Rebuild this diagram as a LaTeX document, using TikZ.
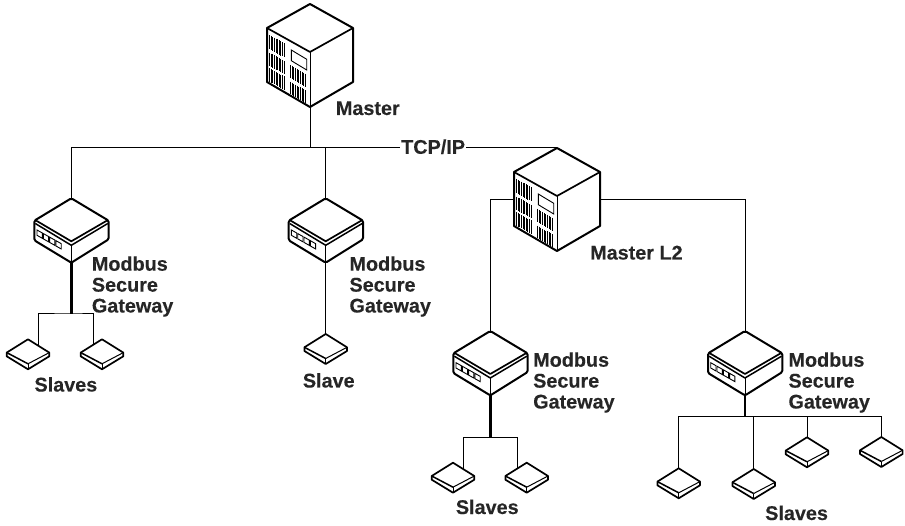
\documentclass[tikz,border=0pt]{standalone}
\usepackage{fontspec}
\setmainfont[BoldFeatures={FakeBold=0.2}]{Liberation Sans}
\newcommand{\grillbars}[4]{%
  \foreach \k in {0,...,9}{%
    \pgfmathsetmacro{\bx}{#1+\k*(#2-(#1))/9}%
    \pgfmathsetmacro{\bt}{#3+(\bx-(#1))*0.565}%
    \pgfmathsetmacro{\bb}{#4+(\bx-(#1))*0.565}%
    \draw[line width=1pt] (\bx,\bt) -- (\bx,\bb);
  }%
}
\tikzset{
  x=1pt,y=-1pt,
  outline/.style={line width=2pt,line join=round,fill=white},
  inner line/.style={line width=1pt},
  link/.style={line width=1pt,draw=black},
  heavy link/.style={line width=2.4pt,draw=black},
  caption/.style={font=\bfseries\fontsize{19.8}{20.9}\selectfont,inner sep=0pt,anchor=base west,align=left,text=black!85},
  cube/.pic={
    \draw[outline] (0,0) -- (43,24) -- (43,78) -- (0,103) -- (-43,78) -- (-43,24) -- cycle;
    \draw[line width=1.7pt,line join=round] (-43,24) -- (0,48) -- (43,24);
    \draw[inner line] (0,48) -- (0,103);
    \grillbars{-40.3}{-26}{31}{45.3}
    \grillbars{-40.3}{-26}{48.7}{62}
    \grillbars{-40.3}{-26}{64.3}{77.7}
    \grillbars{-19.7}{-4.3}{61}{74.3}
    \grillbars{-19.7}{-4.3}{77.7}{90.3}
    \draw[line width=0.9pt] (-18.7,46) -- (-3.3,55.3) -- (-3.3,66) -- (-18.7,56.7) -- cycle;
    \coordinate (-top) at (0,0);
    \coordinate (-bot) at (0,103);
    \coordinate (-w) at (-43,52);
    \coordinate (-e) at (43,52);
  },
  gateway/.pic={
    \draw[outline,rounded corners=1.5pt] (0,0) -- (37.4,22.4) -- (37.4,41) -- (0,64.4) -- (-37,42) -- (-37,22.4) -- cycle;
    \draw[line width=1.7pt,line join=round] (-36,21.8) -- (0,43) -- (36.5,21.8);
    \draw[line width=1.5pt,line join=round] (-36,25.2) -- (0,47) -- (36.5,25.2);
    \draw[inner line] (0,47) -- (0,64);
    \foreach \i in {0,1,2,3}{
      \draw[line width=0.9pt] ({-34.3+6.3*\i},{31.7+3.55*\i}) -- ++(5.3,3) -- ++(0,5.3) -- ++(-5.3,-3) -- cycle;
    }
    \coordinate (-top) at (0,0);
    \coordinate (-bot) at (0,64.4);
  },
  slavebox/.pic={
    \draw[outline,line width=1.7pt] (0,0) -- (21.3,13.3) -- (21.3,17) -- (0,30) -- (-21.3,17) -- (-21.3,13.3) -- cycle;
    \draw[line width=1.5pt,line join=round] (-21.3,13.3) -- (0,24.5);
    \draw[inner line] (0,24.5) -- (21.3,13.3);
    \draw[inner line] (0,24.5) -- (0,30);
    \coordinate (-top) at (0,0);
    \coordinate (-ne) at (10,6.4);
    \coordinate (-nw) at (-9,5.8);
  },
}
\begin{document}
\begin{tikzpicture}
\useasboundingbox (0,0) rectangle (905,526);
\fill[white] (0,0) rectangle (905,526);

% devices
\pic (master) at (310,4) {cube};
\pic (mastertwo) at (557,148) {cube};
\pic (gwa) at (71.3,198.3) {gateway};
\pic (gwb) at (325.7,198.3) {gateway};
\pic (gwc) at (490.3,331) {gateway};
\pic (gwd) at (745,331) {gateway};
\pic (saa) at (28,339.3) {slavebox};
\pic (sab) at (102,339.3) {slavebox};
\pic (sba) at (325.7,334) {slavebox};
\pic (sca) at (453,462.7) {slavebox};
\pic (scb) at (526.7,462.7) {slavebox};
\pic (sda) at (678.7,468.3) {slavebox};
\pic (sdb) at (753.7,469) {slavebox};
\pic (sdc) at (807,437.3) {slavebox};
\pic (sdd) at (881.3,437) {slavebox};

% labels
\node[caption] (lmaster) at (335.7,115) {Master};
\node[caption,anchor=west,inner xsep=1pt,text height=14.3pt,text depth=2.7pt] (tcp) at (400,148) {TCP/IP};
\node[caption] (ltwo) at (590,259.5) {Master L2};
\node[caption] (lga) at (91.7,312.5) {Modbus\\Secure\\Gateway};
\node[caption] (lgb) at (349.3,312.5) {Modbus\\Secure\\Gateway};
\node[caption] (lgc) at (533,408.5) {Modbus\\Secure\\Gateway};
\node[caption] (lgd) at (788.3,408.5) {Modbus\\Secure\\Gateway};
\node[caption] (lsa) at (34.3,391.5) {Slaves};
\node[caption] (lsb) at (302.7,387.5) {Slave};
\node[caption] (lsc) at (455.7,514) {Slaves};
\node[caption] (lsd) at (765,520) {Slaves};

% junctions
\coordinate (busa) at (71.3,314);
\coordinate (busc) at (490.3,437.3);
\coordinate (busd) at (745,416.7);

% connectors
\draw[link] (gwa-top) |- (tcp.west);
\draw[link] (tcp.east) -- (mastertwo-top);
\draw[link] (master-bot) -- (master-bot |- tcp.west);
\draw[link] (gwb-top) -- (gwb-top |- tcp.west);
\draw[link] (mastertwo-w) -| (gwc-top);
\draw[link] (mastertwo-e) -| (gwd-top);

\draw[heavy link] (gwa-bot) -- (busa);
\draw[link] (saa-ne) |- (busa) -| (sab-nw);
\draw[link] (gwb-bot) -- (sba-top);
\draw[heavy link] (gwc-bot) -- (busc);
\draw[link] (sca-ne) |- (busc) -| (scb-nw);
\draw[heavy link] (gwd-bot) -- (busd);
\draw[link] (sda-top) |- (busd);
\draw[link] (sdb-top) |- (busd);
\draw[link] (sdc-top) |- (busd);
\draw[link] (sdd-top) |- (busd);
\end{tikzpicture}
\end{document}
